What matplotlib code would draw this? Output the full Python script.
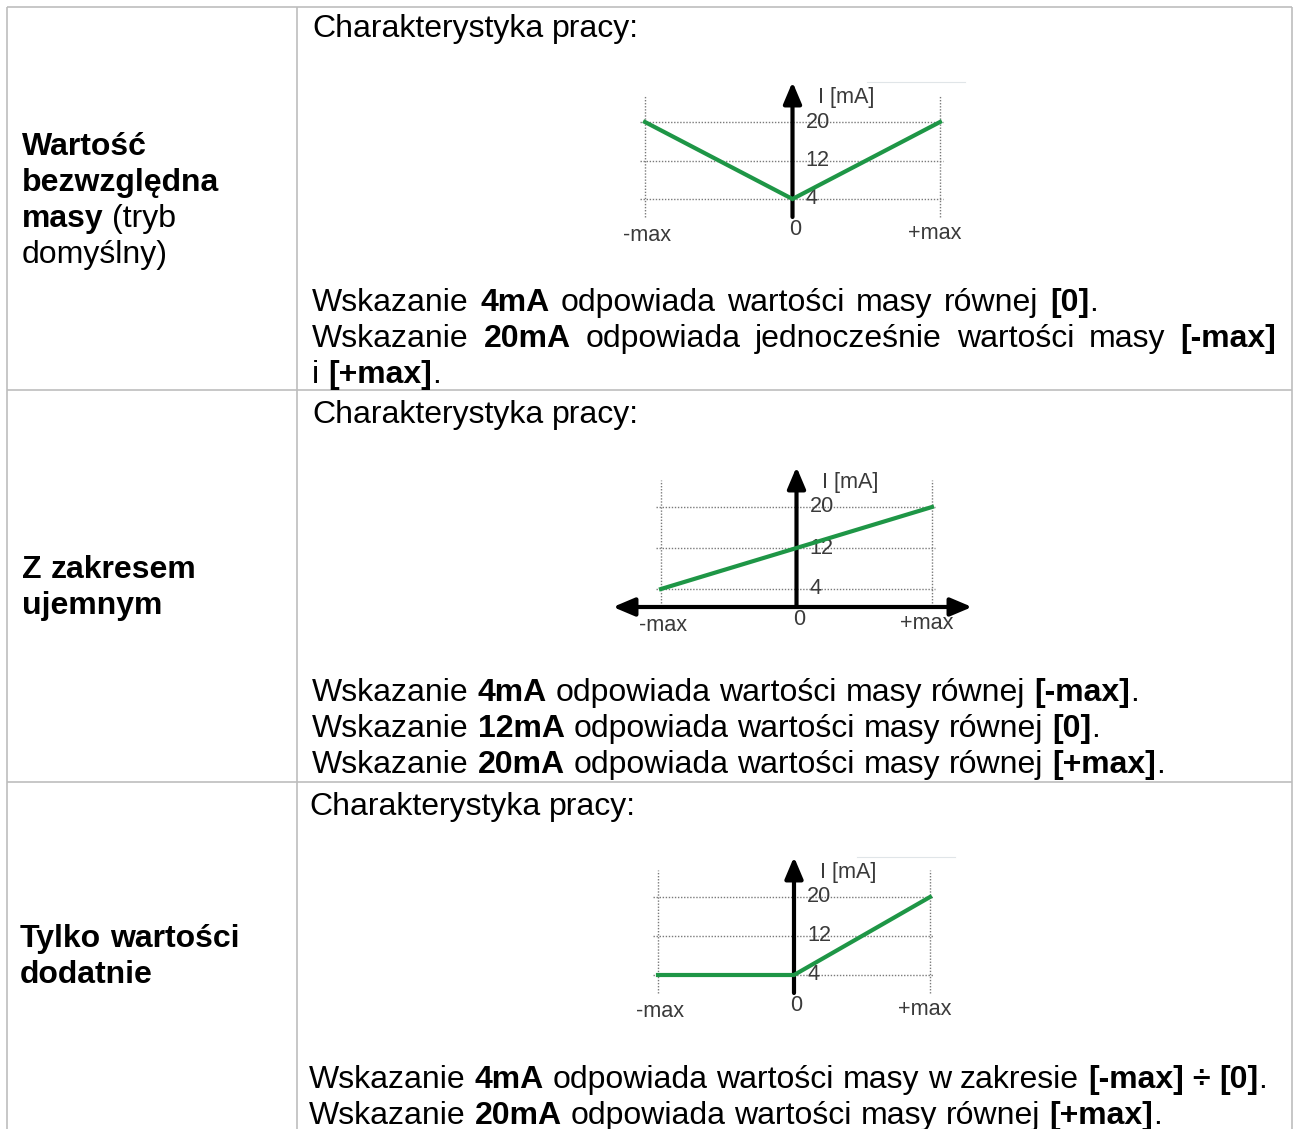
import matplotlib
matplotlib.use('Agg')
import matplotlib.pyplot as plt

W, H, DPI = 1293, 1129, 100
plt.rcParams['font.family'] = ['Liberation Sans', 'DejaVu Sans']

# ---------------- data ----------------
x_norm_labels = ['-max', '0', '+max']
y_ticks = [4, 12, 20]
y_tick_labels = ['4', '12', '20']
y_axis_label = 'I [mA]'

abs_x = [-1, 0, 1]          # absolute value mode
abs_mA = [20, 4, 20]
neg_x = [-1, 1]             # with negative range
neg_mA = [4, 20]
pos_x = [-1, 0, 1]          # positive values only
pos_mA = [4, 4, 20]

row_titles = [
    [[("Wartość", True)], [("bezwzględna", True)], [("masy", True), (" (tryb", False)], [("domyślny)", False)]],
    [[("Z zakresem", True)], [("ujemnym", True)]],
    [[("Tylko wartości", True)], [("dodatnie", True)]],
]
header_text = "Charakterystyka pracy:"
row_texts = [
    [
        [("Wskazanie ", False), ("4mA", True), (" odpowiada wartości masy równej ", False), ("[0]", True), (".", False)],
        [("Wskazanie ", False), ("20mA", True), (" odpowiada jednocześnie wartości masy ", False), ("[-max]", True)],
        [("i ", False), ("[+max]", True), (".", False)],
    ],
    [
        [("Wskazanie ", False), ("4mA", True), (" odpowiada wartości masy równej ", False), ("[-max]", True), (".", False)],
        [("Wskazanie ", False), ("12mA", True), (" odpowiada wartości masy równej ", False), ("[0]", True), (".", False)],
        [("Wskazanie ", False), ("20mA", True), (" odpowiada wartości masy równej ", False), ("[+max]", True), (".", False)],
    ],
    [
        [("Wskazanie ", False), ("4mA", True), (" odpowiada wartości masy w zakresie ", False), ("[-max] ÷ [0]", True), (".", False)],
        [("Wskazanie ", False), ("20mA", True), (" odpowiada wartości masy równej ", False), ("[+max]", True), (".", False)],
    ],
]

# ---------------- styles ----------------
FS = 23.0
CFS = 15.6
GREEN = '#1e9646'
TXT = '#3a3a3a'
GRID = '#7a7a7a'
BORDER = '#bdbdbd'

fig = plt.figure(figsize=(W / DPI, H / DPI), dpi=DPI)
fig.patch.set_facecolor('white')
bg = fig.add_axes([0, 0, 1, 1])
bg.set_xlim(0, W)
bg.set_ylim(H, 0)
bg.axis('off')
renderer = fig.canvas.get_renderer()

# table lines
for (xa, xb, ya, yb) in [(7, 1292, 7, 7), (7, 1292, 390, 390), (7, 1292, 782, 782),
                         (7, 7, 7, H + 5), (297, 297, 7, H + 5), (1292, 1292, 7, H + 5)]:
    bg.plot([xa, xb], [ya, yb], color=BORDER, lw=1.2, solid_capstyle='butt')


def measure(s, bold, size=FS):
    t = bg.text(0, 0, s, fontsize=size, fontweight='bold' if bold else 'normal')
    w = t.get_window_extent(renderer).width
    t.remove()
    return w


def adv(s, bold, size=FS):
    return measure('n' + s + 'n', bold, size) - measure('nn', bold, size)


SPACE = measure('n n', False) - measure('nn', False)


def words_from_runs(runs):
    words = [[]]
    for text, bold in runs:
        parts = text.split(' ')
        for i, p in enumerate(parts):
            if i > 0:
                words.append([])
            if p:
                words[-1].append((p, bold))
    return [w for w in words if w]


def draw_line(x, y, runs, justify_right=None, size=FS):
    words = words_from_runs(runs)
    widths = [sum(adv(s, b, size) for s, b in w) for w in words]
    sp = SPACE
    if justify_right is not None and len(words) > 1:
        sp = (justify_right - x - sum(widths)) / (len(words) - 1)
    cx = x
    for w in words:
        for s, b in w:
            bg.text(cx, y, s, fontsize=size, fontweight='bold' if b else 'normal',
                    va='baseline', ha='left', color='black')
            cx += adv(s, b, size)
        cx += sp


# left column
title_x = [22, 22, 20]
title_baselines = [[155, 191, 227, 263], [578, 614], [947, 983]]
for ti, lines in enumerate(row_titles):
    for li, runs in enumerate(lines):
        draw_line(title_x[ti], title_baselines[ti][li], runs)

# right column
text_x = [312, 312, 309]
header_baselines = [37, 423, 815]
text_baselines = [[311, 347, 383], [701, 737, 773], [1088, 1124]]
justify = {(0, 0): 1098, (0, 1): 1276}
for ri, lines in enumerate(row_texts):
    draw_line(text_x[ri], header_baselines[ri], [(header_text, False)])
    for li, runs in enumerate(lines):
        draw_line(text_x[ri], text_baselines[ri][li], runs, justify_right=justify.get((ri, li)))


# ---------------- charts ----------------
def chart(px_left, px_right, px_y20, px_y4, xs, ys, h_axis=False, faint=True):
    ax = fig.add_axes([px_left / W, 1 - px_y4 / H, (px_right - px_left) / W, (px_y4 - px_y20) / H])
    ax.set_xlim(-1, 1)
    ax.set_ylim(4, 20)
    ax.axis('off')
    ppy = (px_y4 - px_y20) / 16.0          # pixels per mA
    ppx = (px_right - px_left) / 2.0       # pixels per unit
    up = lambda px: 20 + px / ppy
    down = lambda px: 4 - px / ppy
    dx = lambda px: px / ppx

    dot = dict(color=GRID, lw=1.0, ls=(0, (1, 1.2)), clip_on=False)
    for yv in y_ticks:
        ax.plot([-1 - dx(5), 1 + dx(3)], [yv, yv], **dot)
    vb = down(14) if h_axis else down(18)
    for xv in (-1, 1):
        ax.plot([xv, xv], [vb, up(27)], **dot)
    if faint:
        ax.plot([1 - dx(73), 1 + dx(25)], [up(40), up(40)], color='#e0e5e8', lw=0.8, clip_on=False)

    astyle = 'head_length=1.3,head_width=0.55'
    ax.annotate('', xy=(0, up(40)), xytext=(0, down(18)),
                arrowprops=dict(arrowstyle='-|>,' + astyle, lw=3.0,
                                color='black', shrinkA=0, shrinkB=0, mutation_scale=10),
                annotation_clip=False)
    if h_axis:
        ax.annotate('', xy=(1 + dx(40), down(18)), xytext=(-1 - dx(48), down(18)),
                    arrowprops=dict(arrowstyle='<|-|>,' + astyle, lw=3.0,
                                    color='black', shrinkA=0, shrinkB=0, mutation_scale=10),
                    annotation_clip=False)

    ax.plot(xs, ys, color=GREEN, lw=3.0, clip_on=False, zorder=6, solid_joinstyle='miter')

    for yv, lab in zip(y_ticks, y_tick_labels):
        ax.annotate(lab, xy=(0, yv), xytext=(9.4, 0), textcoords='offset points',
                    va='center', ha='left', fontsize=CFS, color=TXT, annotation_clip=False)
    ax.annotate(y_axis_label, xy=(0, 20), xytext=(18.7, 17.3), textcoords='offset points',
                va='center', ha='left', fontsize=CFS, color=TXT, annotation_clip=False)
    offs = [(1.5, -30.2), (1.8, -25.9), (-4.0, -28.8)]
    for xv, lab, (ox, oy) in zip([-1, 0, 1], x_norm_labels, offs):
        ax.annotate(lab, xy=(xv, 4), xytext=(ox, oy), textcoords='offset points',
                    va='baseline', ha='center', fontsize=CFS, color=TXT, annotation_clip=False)
    return ax


chart(645, 940, 122, 199, abs_x, abs_mA, h_axis=False, faint=True)
chart(661, 932, 507, 589, neg_x, neg_mA, h_axis=True, faint=False)
chart(658, 930, 897, 975, pos_x, pos_mA, h_axis=False, faint=True)

fig.savefig('out.png', dpi=DPI, facecolor='white')
